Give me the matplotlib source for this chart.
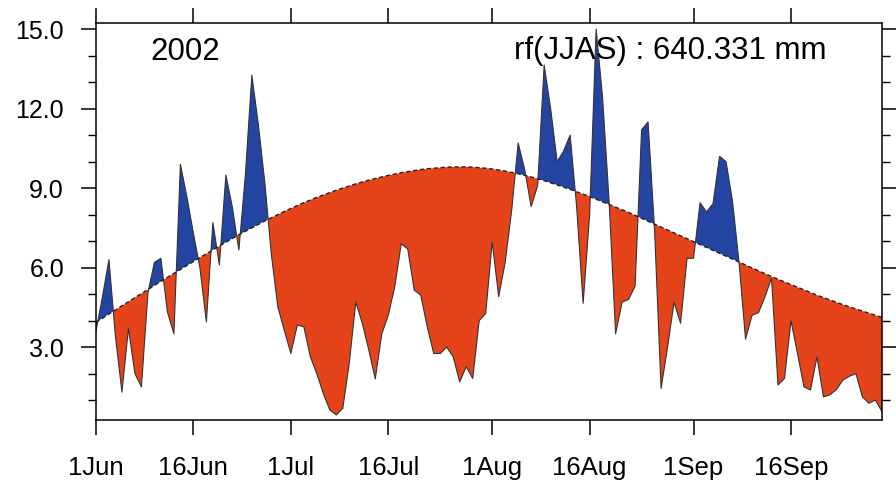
from matplotlib import pyplot as plt
import pandas as pd
import numpy as np

plt.rcParams['font.family'] = ['Liberation Sans', 'DejaVu Sans']

# daily rainfall (mm/day), 1 Jun - 30 Sep 2002
rain = [3.6, 4.9, 6.3, 3.4, 1.3, 3.7, 2.0, 1.5, 5.05, 6.2,
        6.35, 4.33, 3.5, 9.9, 8.67, 7.3, 6.0, 3.95, 7.7, 6.1,
        9.49, 8.28, 6.66, 9.5, 13.26, 11.4, 9.2, 6.5, 4.52, 3.63,
        2.76, 3.83, 3.77, 2.64, 2.0, 1.25, 0.63, 0.44, 0.69, 2.4,
        4.7, 3.9, 2.9, 1.8, 3.5, 4.2, 5.28, 6.9, 6.7, 5.15,
        4.96, 3.77, 2.76, 2.76, 3.0, 2.63, 1.69, 2.26, 1.82, 4.0,
        4.27, 6.97, 4.9, 6.2, 8.17, 10.7, 9.7, 8.3, 9.1, 13.64,
        12.0, 10.0, 10.4, 11.0, 8.3, 4.65, 8.0, 15.0, 12.4, 8.5,
        3.5, 4.7, 4.8, 5.3, 11.2, 11.5, 7.4, 1.44, 3.0, 4.7,
        3.9, 6.35, 6.35, 8.45, 8.1, 8.42, 10.2, 10.0, 8.5, 6.2,
        3.3, 4.2, 4.3, 4.9, 5.6, 1.57, 1.82, 4.0, 2.76, 1.5,
        1.38, 2.63, 1.12, 1.2, 1.4, 1.76, 1.9, 2.0, 1.12, 0.88,
        1.0, 0.57]

# daily climatology (mm/day)
clim = [3.94, 4.09, 4.25, 4.40, 4.56, 4.71, 4.87, 5.02, 5.17, 5.33,
        5.48, 5.63, 5.78, 5.93, 6.08, 6.23, 6.38, 6.52, 6.67, 6.81,
        6.96, 7.10, 7.24, 7.37, 7.50, 7.63, 7.76, 7.88, 8.00, 8.12,
        8.23, 8.34, 8.45, 8.55, 8.65, 8.74, 8.83, 8.92, 9.00, 9.08,
        9.16, 9.23, 9.30, 9.36, 9.42, 9.48, 9.53, 9.58, 9.62, 9.66,
        9.70, 9.73, 9.75, 9.77, 9.79, 9.80, 9.80, 9.80, 9.79, 9.77,
        9.75, 9.72, 9.68, 9.64, 9.59, 9.54, 9.48, 9.42, 9.35, 9.28,
        9.20, 9.12, 9.04, 8.95, 8.86, 8.77, 8.68, 8.58, 8.48, 8.38,
        8.28, 8.18, 8.08, 7.97, 7.86, 7.75, 7.64, 7.53, 7.42, 7.31,
        7.20, 7.09, 6.98, 6.87, 6.76, 6.65, 6.54, 6.43, 6.32, 6.21,
        6.10, 5.99, 5.88, 5.77, 5.66, 5.56, 5.46, 5.36, 5.26, 5.16,
        5.06, 4.96, 4.87, 4.78, 4.69, 4.60, 4.52, 4.44, 4.36, 4.28,
        4.20, 4.12]

tick_dates = ['2002-06-01', '2002-06-16', '2002-07-01', '2002-07-16',
              '2002-08-01', '2002-08-16', '2002-09-01', '2002-09-16']
tick_labels = ['1Jun', '16Jun', '1Jul', '16Jul', '1Aug', '16Aug', '1Sep', '16Sep']
year_label = '2002'
total_label = 'rf(JJAS) : 640.331 mm'

dates = pd.date_range('2002-06-01', '2002-09-30', freq='D')
x = np.asarray((dates - dates[0]).days, dtype=float)
xt = np.asarray((pd.to_datetime(tick_dates) - dates[0]).days, dtype=float)
r = np.array(rain)
c = np.array(clim)

blue = '#2444a2'
red = '#e5441a'

fig = plt.figure(figsize=(8.96, 4.91), dpi=100)
ax = fig.add_axes([0.1071, 0.1446, 0.8772, 0.8086])

# above climatology -> blue, below -> red
ax.fill_between(x, r, c, where=r >= c, interpolate=True, color=blue, lw=0)
ax.fill_between(x, r, c, where=r < c, interpolate=True, color=red, lw=0)
ax.plot(x, r, color='#333333', lw=0.8)
ax.plot(x, c, color='#222222', lw=1.0, ls=(0, (3, 2)))

ax.set_xlim(0, x[-1])
ax.set_ylim(0.25, 15.23)
ax.set_xticks(xt)
ax.set_xticklabels(tick_labels)
ax.set_yticks([3, 6, 9, 12, 15])
ax.set_yticklabels(['%.1f' % v for v in [3, 6, 9, 12, 15]])
ax.set_yticks(np.arange(1, 15, 1), minor=True)

for s in ax.spines.values():
    s.set_linewidth(1.1)
ax.tick_params(axis='both', which='major', direction='out', length=11, width=1.1,
               top=True, right=True)
ax.tick_params(axis='y', which='minor', direction='out', length=5.5, width=1.0,
               left=True, right=True)
ax.tick_params(axis='x', pad=15, labelsize=18.5)
ax.tick_params(axis='y', pad=12, labelsize=18)

ax.text(0.069, 0.927, year_label, transform=ax.transAxes, fontsize=22.5,
        ha='left', va='center')
ax.text(0.929, 0.93, total_label, transform=ax.transAxes, fontsize=22.5,
        ha='right', va='center')

fig.savefig('out.png', dpi=100)
